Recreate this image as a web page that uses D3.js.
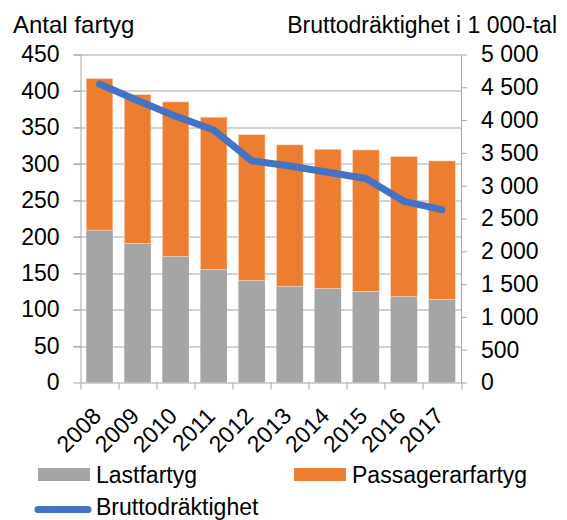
<!DOCTYPE html>
<html>
<head>
	<meta charset="utf-8">
	<title>Antal fartyg och bruttodräktighet</title>
	<style type="text/css">
		body {
			margin: 0;
			background: #fff;
		}

		svg text {
			font-family: "Liberation Sans", Arial, sans-serif;
			fill: #000;
		}

		.axis path, .axis line {
			stroke: #a6a6a6;
		}
	</style>
	<script src="https://d3js.org/d3.v7.min.js"></script>
</head>
<body>
<script type="text/javascript">
	// data
	var years = ["2008", "2009", "2010", "2011", "2012", "2013", "2014", "2015", "2016", "2017"];
	var lastfartyg = [209, 191, 173, 155, 140, 132, 129, 125, 118, 114];
	var passagerarfartyg = [208, 204, 212, 209, 200, 194, 191, 194, 192, 190];
	var brutto = [4550, 4300, 4060, 3850, 3380, 3300, 3205, 3110, 2762, 2635];
	var leftTicks = [0, 50, 100, 150, 200, 250, 300, 350, 400, 450];
	var rightTicks = [0, 500, 1000, 1500, 2000, 2500, 3000, 3500, 4000, 4500, 5000];

	var colGray = "#a5a5a5", colOrange = "#ed7d31", colBlue = "#4472c4";
	var fontSize = 23;

	var svg = d3.select("body").append("svg")
		.attr("width", 567)
		.attr("height", 520);

	var margin = {top: 54.5, left: 80.5, right: 106, bottom: 137.5},
		width = 567 - margin.left - margin.right,
		height = 520 - margin.top - margin.bottom;

	var x = d3.scaleBand().domain(years).range([0, width]).paddingInner(0.3).paddingOuter(0.15);
	var y = d3.scaleLinear().domain([0, 450]).range([height, 0]);
	var y2 = d3.scaleLinear().domain([0, 5000]).range([height, 0]);

	var sv = d3.formatLocale({decimal: ",", thousands: " ", grouping: [3], currency: ["", " kr"]});
	var fmt = sv.format(",d");

	var g = svg.append("g")
		.attr("transform", "translate(" + margin.left + "," + margin.top + ")");

	// gridlines
	g.append("g").selectAll("line")
		.data(leftTicks.slice(1))
		.enter().append("line")
		.attr("x1", -7).attr("x2", width)
		.attr("y1", function(d) { return Math.round(y(d)) + 0.5; })
		.attr("y2", function(d) { return Math.round(y(d)) + 0.5; })
		.attr("stroke", "#a6a6a6")
		.attr("stroke-width", 1);

	var rows = years.map(function(yr, i) {
		return {year: yr, last: lastfartyg[i], pass: passagerarfartyg[i], brutto: brutto[i]};
	});

	// stacked bars
	g.append("g").selectAll("rect.last")
		.data(rows)
		.enter().append("rect")
		.attr("class", "last")
		.attr("x", function(d) { return x(d.year); })
		.attr("width", x.bandwidth())
		.attr("y", function(d) { return y(d.last); })
		.attr("height", function(d) { return height - y(d.last); })
		.attr("fill", colGray);

	g.append("g").selectAll("rect.pass")
		.data(rows)
		.enter().append("rect")
		.attr("class", "pass")
		.attr("x", function(d) { return x(d.year); })
		.attr("width", x.bandwidth())
		.attr("y", function(d) { return y(d.last + d.pass); })
		.attr("height", function(d) { return y(d.last) - y(d.last + d.pass); })
		.attr("fill", colOrange)
		.attr("stroke", "#fbd9c4")
		.attr("stroke-width", 0.6);

	// axes
	var axisL = d3.axisLeft(y).tickValues(leftTicks).tickSize(7).tickPadding(14).tickSizeOuter(0);
	var axisR = d3.axisRight(y2).tickValues(rightTicks).tickFormat(fmt).tickSize(6).tickPadding(14).tickSizeOuter(0);
	var axisB = d3.axisBottom(x).tickSize(0).tickFormat("");

	var gl = g.append("g").attr("class", "axis").call(axisL);
	var gr = g.append("g").attr("class", "axis").attr("transform", "translate(" + width + ",0)").call(axisR);
	var gb = g.append("g").attr("class", "axis").attr("transform", "translate(0," + height + ")").call(axisB);
	[gl, gr, gb].forEach(function(a) {
		a.selectAll("text").style("font-size", fontSize + "px").style("font-family", "Liberation Sans, Arial, sans-serif").attr("fill", "#000");
	});

	// x ticks at band boundaries
	g.append("g").selectAll("line")
		.data(d3.range(years.length + 1))
		.enter().append("line")
		.attr("x1", function(i) { return Math.round(i * width / years.length) + 0.5; })
		.attr("x2", function(i) { return Math.round(i * width / years.length) + 0.5; })
		.attr("y1", height).attr("y2", height + 7)
		.attr("stroke", "#a6a6a6");

	g.append("g").selectAll("text")
		.data(years)
		.enter().append("text")
		.attr("transform", function(d) { return "translate(" + (x(d) + x.bandwidth() / 2 + 3) + "," + (height + 35) + ") rotate(-45)"; })
		.attr("text-anchor", "end")
		.style("font-size", fontSize + "px")
		.text(function(d) { return d; });

	// tonnage line
	var line = d3.line()
		.x(function(d) { return x(d.year) + x.bandwidth() / 2; })
		.y(function(d) { return y2(d.brutto); });

	g.append("path")
		.datum(rows)
		.attr("d", line)
		.attr("fill", "none")
		.attr("stroke", colBlue)
		.attr("stroke-width", 7)
		.attr("stroke-linejoin", "round")
		.attr("stroke-linecap", "round");

	// axis titles
	svg.append("text")
		.attr("x", 13).attr("y", 33)
		.style("font-size", "24px")
		.text("Antal fartyg");

	svg.append("text")
		.attr("x", 557).attr("y", 33)
		.attr("text-anchor", "end")
		.style("font-size", fontSize + "px")
		.text("Bruttodräktighet i 1 000-tal");

	// legend
	var legend = svg.append("g");
	legend.append("rect").attr("x", 38).attr("y", 468).attr("width", 52).attr("height", 13).attr("fill", colGray);
	legend.append("text").attr("x", 96).attr("y", 483).style("font-size", fontSize + "px").text("Lastfartyg");
	legend.append("rect").attr("x", 294).attr("y", 468).attr("width", 52).attr("height", 13).attr("fill", colOrange);
	legend.append("text").attr("x", 352).attr("y", 483).style("font-size", fontSize + "px").text("Passagerarfartyg");
	legend.append("line").attr("x1", 38).attr("x2", 88).attr("y1", 509.5).attr("y2", 509.5)
		.attr("stroke", colBlue).attr("stroke-width", 7).attr("stroke-linecap", "round");
	legend.append("text").attr("x", 96).attr("y", 515).style("font-size", fontSize + "px").text("Bruttodräktighet");
</script>
</body>
</html>
